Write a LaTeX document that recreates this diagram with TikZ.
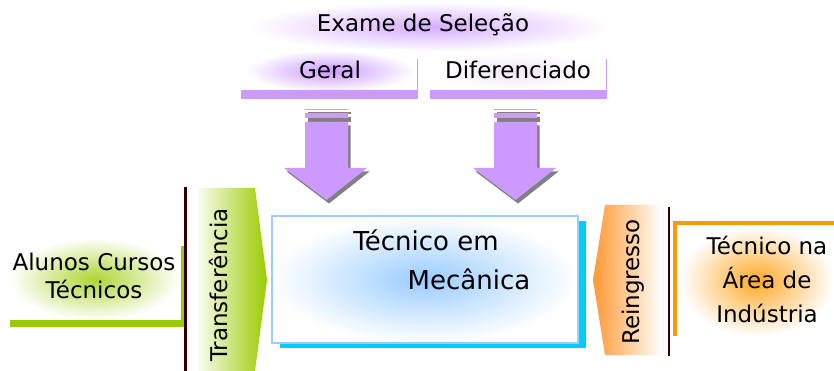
\documentclass[tikz,border=0pt]{standalone}
\usepackage{fontspec}
\setmainfont{DejaVu Sans}
\definecolor{lil}{RGB}{204,153,255}
\definecolor{grn}{RGB}{153,204,0}
\definecolor{org}{RGB}{255,153,0}
\definecolor{org2}{RGB}{255,153,51}
\definecolor{cyn}{RGB}{0,204,255}
\definecolor{lblue}{RGB}{153,204,255}
\definecolor{dbrown}{RGB}{51,0,0}
\definecolor{shd}{RGB}{128,128,128}
\tikzset{
  lbl/.style={font=\fontsize{23}{28}\selectfont, inner sep=0pt, text=black},
  biglbl/.style={font=\fontsize{26}{30}\selectfont, inner sep=0pt, text=black},
  divider/.style={dbrown, line width=2.5pt},
  dnarrow/.pic={
    \begin{scope}[shift={(2.5,3.5)}]
      \fill[shd] (305,109) rectangle (348,110.5);
      \fill[shd] (305,113.5) rectangle (348,118.5);
      \fill[shd] (305,122) -- (348,122) -- (348,168) -- (367,168) -- (326.5,200) -- (284,168) -- (305,168) -- cycle;
    \end{scope}
    \fill[lil] (305,109) rectangle (348,110.5);
    \fill[lil] (305,113.5) rectangle (348,118.5);
    \fill[lil] (305,122) -- (348,122) -- (348,168) -- (367,168) -- (326.5,200) -- (284,168) -- (305,168) -- cycle;
  }
}
\begin{document}
\begin{tikzpicture}[x=1pt,y=-1pt]
\useasboundingbox[fill=white] (0,0) rectangle (834,371);
% top glows
\shade[inner color=lil!80, outer color=white] (250,2) rectangle (610,52);
\shade[inner color=lil, outer color=white] (245,50) rectangle (415,92);
\shade[inner color=lil!25, outer color=white] (432,52) rectangle (604,90);
% purple bars
\fill[lil] (241,90) rectangle (418,99);
\fill[lil] (416.5,59) rectangle (418,90);
\fill[lil] (430,90) rectangle (607,99);
\fill[lil] (605.5,59) rectangle (607,90);
\node[lbl] (exame) at (423,25) {Exame de Seleção};
\node[lbl] (geral) at (330,70) {Geral};
\node[lbl] (difer) at (518,70) {Diferenciado};
% arrows
\pic at (0,0) {dnarrow};
\pic at (189,0) {dnarrow};
% central box
\fill[cyn] (280,221) rectangle (586,348);
\shade[inner color=lblue, outer color=white] (272,216) rectangle (578,343);
\draw[lblue, line width=1.5pt] (272,216) rectangle (578,343);
\node[biglbl] (tec1) at (426,240) {Técnico em};
\node[biglbl] (tec2) at (469,279) {Mecânica};
% left side
\shade[inner color=grn!80, outer color=white] (10,238) rectangle (180,320);
\fill[grn] (10,320) rectangle (187,327);
\fill[grn] (181,246) rectangle (186,327);
\draw[divider] (185.5,187) -- (185.5,371);
\node[lbl, align=center] (alunos) at (94,276) {Alunos Cursos\\Técnicos};
\shade[left color=grn!8!white, right color=grn] (199,188) -- (255,188) -- (267,280) -- (255,371) -- (199,371) -- cycle;
\node[lbl, rotate=90] (transf) at (218,285) {Transferência};
% right side
\shade[left color=org2, right color=white] (605,205) -- (662,205) -- (662,355) -- (605,355) -- (593,280) -- cycle;
\node[lbl, rotate=90] (reing) at (633,282) {Reingresso};
\draw[divider] (669,207) -- (669,356);
\shade[inner color=org!85, outer color=white] (680,226) rectangle (834,336);
\fill[org] (673,221) rectangle (834,225);
\fill[org] (673,221) rectangle (677,336);
\node[lbl, align=center, font=\fontsize{23}{34}\selectfont] (tecna) at (767,279) {Técnico na\\Área de\\Indústria};
\end{tikzpicture}
\end{document}
